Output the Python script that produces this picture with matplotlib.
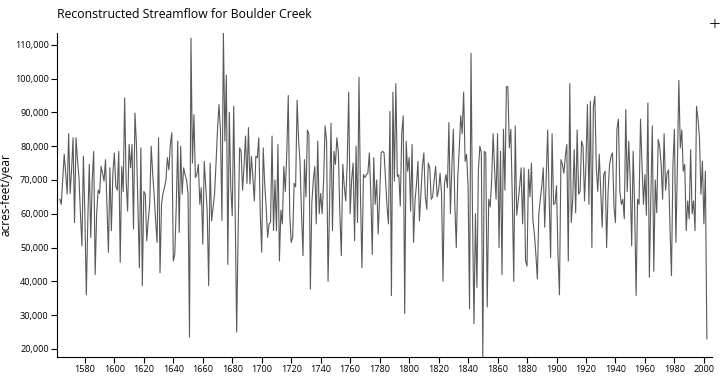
import matplotlib
matplotlib.use("Agg")
import matplotlib.pyplot as plt
from matplotlib.ticker import FuncFormatter
import numpy as np

first_year = 1563

# annual reconstructed flow, thousands of acre-feet
flow_1563_1597 = [64.3, 62.8, 70, 77.6, 72, 65.8, 83.7, 66, 73, 82.5, 57.4, 82.5, 76, 70.7,
                  60, 50.5, 77, 60, 36, 58, 74.6, 53, 70, 78.5, 42, 60, 67, 66, 74, 72,
                  69.7, 76, 62, 48.6, 73.6]
flow_1598_1635 = [55, 72, 78, 68, 67, 78.5, 45.6, 74, 66.6, 94.3, 70, 60.8, 80.5, 73.6, 80.5,
                  55.5, 89.8, 80.5, 62, 44, 79.5, 38.7, 66.6, 65.8, 52, 58, 62.8, 80, 72,
                  65.8, 58, 51.5, 82.5, 42.5, 62.8, 66, 67.7, 70]
flow_1636_1672 = [76.6, 73, 80.5, 84, 46, 48, 62, 81.5, 54.5, 80, 65.8, 73.6, 71.6, 70, 66,
                  23.5, 112, 75, 89.3, 70.7, 71.6, 74.6, 62.8, 67.7, 51, 75.5, 68, 60.8,
                  38.7, 75, 57.9, 62, 65.8, 75, 85, 92.3, 84.8]
flow_1673_1709 = [58, 113.5, 81.5, 101, 45, 90, 67.7, 59.4, 91.8, 60, 25, 55, 79.5, 78.5, 67,
                  74, 83, 69, 85.5, 68.8, 77, 70.7, 63.8, 77, 76.6, 82.5, 60, 48.6, 79.5,
                  69, 62, 53, 57, 57.5, 83, 55, 70]
flow_1710_1746 = [55, 80.5, 46, 61, 57, 74, 66.6, 78, 95, 60, 51.5, 53, 69, 68, 93.6, 82, 75,
                  60, 47.6, 76, 65, 84.8, 83.5, 37.7, 63.3, 70, 74, 57, 81.5, 60, 66, 60,
                  70, 86, 81.5, 40, 62]
flow_1747_1784 = [86.8, 55, 78.5, 74.6, 82.5, 78, 60, 47.6, 74.6, 68, 63.8, 75, 96, 60, 70,
                  75, 52, 80, 57.4, 100.4, 65, 44, 71.6, 70.7, 71.6, 72, 78, 66, 48, 76.6,
                  62.8, 70, 54, 65, 78, 78.5, 78, 70]
flow_1785_1821 = [62.3, 57, 90.3, 35.8, 96, 69.7, 98.5, 71, 71.5, 62.3, 83.7, 89, 30.5, 81.5,
                  72.6, 76.6, 60.8, 80.5, 51.5, 63.8, 68.8, 75.5, 57.9, 66, 74, 78, 65,
                  61.3, 75, 73.6, 64.3, 65, 70, 74, 65, 67, 72]
flow_1822_1858 = [66, 40, 69, 71.6, 67.7, 87, 60, 73.6, 85, 63, 50, 70.7, 79, 89, 83.7, 96,
                  75.5, 77.6, 68.3, 31.9, 107.5, 60, 27.5, 60, 38.2, 73, 80, 78, 17.6,
                  78.5, 78, 32.4, 64.3, 62, 70, 83.7, 73]
flow_1859_1896 = [64.3, 83.7, 50, 78.5, 42, 85, 67, 97.6, 97.6, 79.5, 85, 65, 40, 86, 59.6,
                  63.8, 68, 73.6, 57, 73.6, 46, 44.5, 73.1, 65, 75, 58, 54, 48, 40.7, 60,
                  64.3, 68, 73.6, 56, 70.7, 84.8, 65, 47]
flow_1897_1933 = [83.7, 62.8, 63, 68.3, 48, 36, 76, 74.6, 72, 77, 80.5, 46, 98.5, 57.4, 64.3,
                  79, 60.3, 84.8, 65.8, 66.6, 81.5, 80, 63.8, 75, 92.3, 62.8, 93.3, 50,
                  91.8, 94.8, 73.6, 66.6, 77.6, 67, 56, 71.6, 72.6]
flow_1934_1970 = [50, 66.6, 74.6, 77, 78, 62, 57.4, 85, 88, 66.6, 62.8, 64.3, 58.5, 90.8,
                  66.6, 81.5, 70, 50.5, 78.5, 62.3, 35.8, 64.3, 62.8, 88, 74.6, 62.8, 71.6,
                  59.6, 92.8, 41.2, 65, 86, 43, 70, 60.3, 82, 80]
flow_1971_2002 = [74.6, 64.3, 83.7, 67, 72, 73, 56, 41.7, 74.6, 85, 51.5, 73.6, 99.5, 79.5,
                  84.8, 72.6, 74.6, 55, 63.8, 58.5, 79, 60, 63.8, 55, 91.8, 88, 82.5, 65.8,
                  75.5, 57, 72.6, 23]

x_ticks = list(range(1580, 2001, 20))
y_ticks = list(range(20000, 110001, 10000))

flow = np.array(flow_1563_1597 + flow_1598_1635 + flow_1636_1672 + flow_1673_1709 +
                flow_1710_1746 + flow_1747_1784 + flow_1785_1821 + flow_1822_1858 +
                flow_1859_1896 + flow_1897_1933 + flow_1934_1970 + flow_1971_2002) * 1000
years = np.arange(first_year, first_year + len(flow))

plt.rcParams["font.family"] = ["Open Sans", "DejaVu Sans"]

fig = plt.figure(figsize=(7.2, 3.9), dpi=100)
ax = fig.add_axes([57 / 720, 1 - 357 / 390, (712 - 57) / 720, (357 - 33) / 390])

ax.plot(years, flow, color="#5a5a5a", linewidth=0.8)

ax.set_xlim(1561.1, 2005.5)
ax.set_ylim(flow.min(), flow.max())
ax.set_xticks(x_ticks)
ax.set_yticks(y_ticks)
ax.yaxis.set_major_formatter(FuncFormatter(lambda v, p: f"{int(v):,}"))
ax.tick_params(axis="both", labelsize=6.6, length=4, width=0.8, color="black", pad=2)

for s in ["top", "right"]:
    ax.spines[s].set_visible(False)
for s in ["left", "bottom"]:
    ax.spines[s].set_color("black")
    ax.spines[s].set_linewidth(0.8)

ax.set_ylabel("acres-feet/year", fontsize=8.5)
ax.yaxis.set_label_coords(-44 / 655, 0.5)

fig.text(57 / 720, 1 - 14 / 390, "Reconstructed Streamflow for Boulder Creek",
         fontsize=8.8, ha="left", va="center", color="black")
fig.text(715 / 720, 1 - 25 / 390, "+", fontsize=15, ha="center", va="center",
         color="black", fontweight="light")

fig.savefig("out.png", dpi=100)
